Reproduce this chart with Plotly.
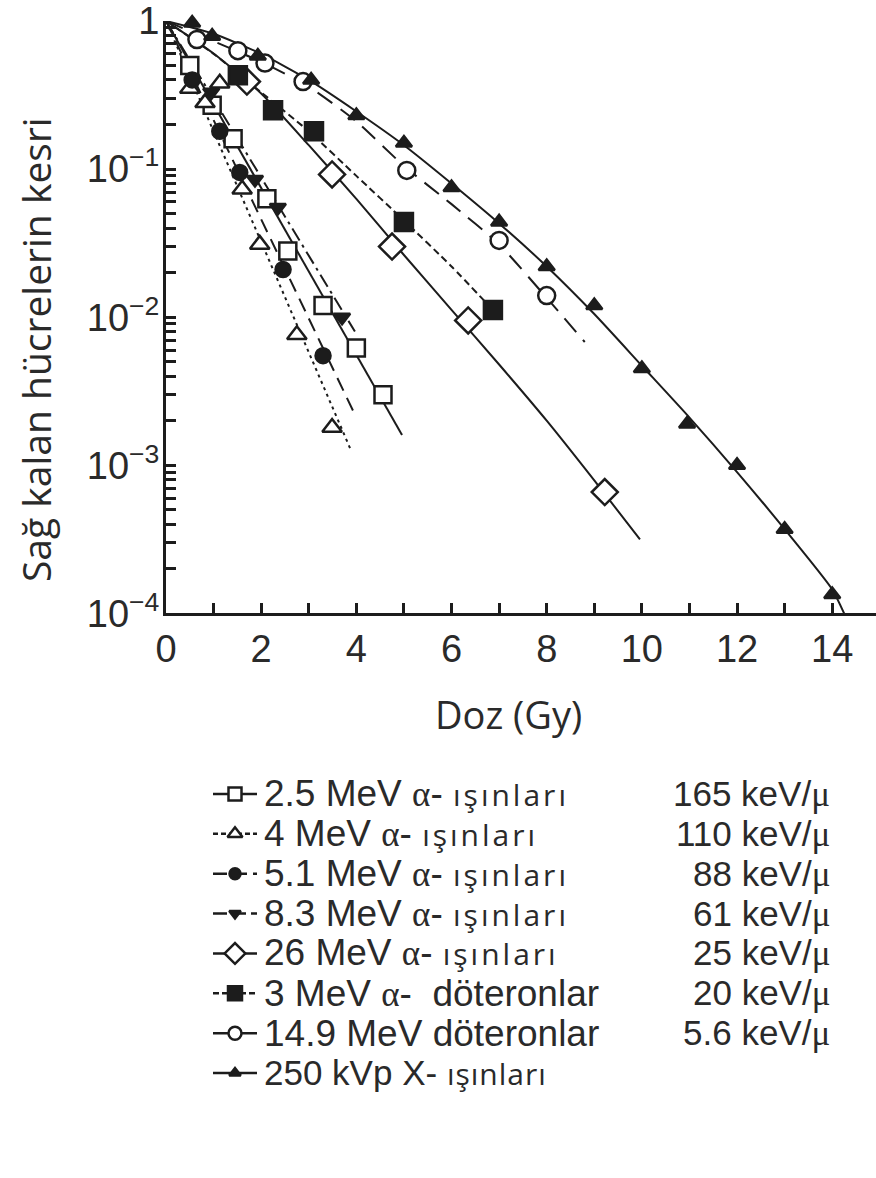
import plotly.graph_objects as go

# ---------------- data ----------------
# measured points
sq_open_x = [0.5, 0.97, 1.41, 2.12, 2.56, 3.3, 4.0, 4.56]            # 2.5 MeV alpha
sq_open_y = [0.5, 0.27, 0.16, 0.063, 0.028, 0.012, 0.0062, 0.003]
tri_open_x = [0.5, 0.82, 1.13, 1.6, 1.97, 2.75, 3.49]                # 4 MeV alpha
tri_open_y = [0.35, 0.28, 0.38, 0.073, 0.031, 0.0076, 0.0018]
circ_fill_x = [0.55, 1.13, 1.55, 2.46, 3.3]                          # 5.1 MeV alpha
circ_fill_y = [0.40, 0.18, 0.095, 0.021, 0.0055]
tri_down_x = [0.95, 1.87, 2.35, 3.7]                                 # 8.3 MeV alpha
tri_down_y = [0.33, 0.085, 0.055, 0.010]
dia_x = [1.7, 3.49, 4.75, 6.35, 9.22]                                # 26 MeV alpha
dia_y = [0.39, 0.092, 0.030, 0.0095, 0.00066]
sq_fill_x = [1.51, 2.25, 3.11, 5.0, 6.87]                            # 3 MeV deuterons
sq_fill_y = [0.43, 0.25, 0.18, 0.044, 0.0112]
circ_open_x = [0.65, 1.51, 2.08, 2.88, 5.06, 7.0, 8.0]               # 14.9 MeV deuterons
circ_open_y = [0.75, 0.63, 0.52, 0.39, 0.098, 0.033, 0.014]
xray_x = [0.55, 0.97, 1.93, 3.05, 4.0, 5.0, 6.0, 7.0, 8.0, 9.0, 10.0, 10.95, 12.0, 13.0, 14.0]
xray_y = [0.97, 0.79, 0.58, 0.40, 0.23, 0.15, 0.075, 0.044, 0.022, 0.012, 0.0045, 0.0019, 0.001, 0.00037, 0.000134]

# fitted curves
fit_a25_x = [0, 4.96]
fit_a25_y = [1, 0.0016]
fit_a4_x = [0, 3.87]
fit_a4_y = [1, 0.0013]
fit_a51_x = [0, 3.97]
fit_a51_y = [1, 0.0022]
fit_a83_x = [0, 3.97]
fit_a83_y = [1, 0.008]
fit_a26_x = [0, 1, 2, 3, 4, 5, 6, 7, 8, 9, 9.96]
fit_a26_y = [1, 0.603, 0.324, 0.145, 0.063, 0.0263, 0.0112, 0.00479, 0.002, 0.00079, 0.000316]
fit_d3_x = [0, 1, 2, 3, 4, 5, 6, 6.87]
fit_d3_y = [1, 0.6, 0.33, 0.18, 0.09, 0.045, 0.022, 0.0112]
fit_d149_x = [0, 1, 2, 3, 4, 5, 6, 7, 8, 8.8]
fit_d149_y = [1, 0.73, 0.53, 0.36, 0.21, 0.105, 0.058, 0.031, 0.0135, 0.0068]
fit_x_x = [0, 1, 2, 3, 4, 5, 6, 7, 8, 9, 10, 11, 12, 13, 14, 14.25]
fit_x_y = [1, 0.82, 0.6, 0.4, 0.245, 0.145, 0.08, 0.043, 0.022, 0.0105, 0.0047, 0.0021, 0.0009, 0.00037, 0.000145, 0.0001]

# legend texts
leg_energy = ["2.5 MeV", "4 MeV", "5.1 MeV", "8.3 MeV", "26 MeV", "3 MeV", "14.9 MeV", "250 kVp X-"]
leg_kind = ["α- ışınları", "α- ışınları", "α- ışınları", "α- ışınları", "α- ışınları",
            "α-\u00a0 döteronlar", "döteronlar", "ışınları"]
leg_let = ["165", "110", "88", "61", "25", "20", "5.6", ""]

y_ticks = [1e-4, 1e-3, 1e-2, 1e-1, 1]
y_ticktext = ["10<sup>−4</sup>", "10<sup>−3</sup>", "10<sup>−2</sup>", "10<sup>−1</sup>", "1"]
x_ticks = [0, 2, 4, 6, 8, 10, 12, 14]

# ---------------- styles / layout ----------------
INK = "#1c1c1c"
TXT = "#2a2a2a"
TICKFONT = "Liberation Sans"
PX0 = 166  # left edge of plot in page pixels (helper legend axis counts px from here)
row_font = [37, 37, 37, 37, 37, 37, 37, 35]
row_spacing = [3, 3, 3, 3, 3, 0, 0, 1]

series = [
    # (pts x, pts y, fit x, fit y, symbol, filled, size, dash)
    (sq_open_x, sq_open_y, fit_a25_x, fit_a25_y, "square", False, 17, "solid"),
    (tri_open_x, tri_open_y, fit_a4_x, fit_a4_y, "triangle-up", False, 17, "3px,4px"),
    (circ_fill_x, circ_fill_y, fit_a51_x, fit_a51_y, "circle", True, 15, "14px,8px"),
    (tri_down_x, tri_down_y, fit_a83_x, fit_a83_y, "triangle-down", True, 14, "14px,5px,3px,5px"),
    (dia_x, dia_y, fit_a26_x, fit_a26_y, "diamond", False, 20, "solid"),
    (sq_fill_x, sq_fill_y, fit_d3_x, fit_d3_y, "square", True, 18, "7px,4px"),
    (circ_open_x, circ_open_y, fit_d149_x, fit_d149_y, "circle", False, 17, "18px,10px"),
    (xray_x, xray_y, fit_x_x, fit_x_y, "triangle-up", True, 14, "solid"),
]
legend_dash = ["solid", "5px,3px", "14px,6px", "14px,5px", "solid", "6px,3px", "solid", "solid"]

fig = go.Figure()

for px, py, fx, fy, sym, filled, size, dash in series:
    fig.add_trace(go.Scatter(
        x=fx, y=fy, mode="lines", line=dict(color=INK, width=2, dash=dash, shape="spline", smoothing=0.6),
        showlegend=False, hoverinfo="skip", xaxis="x", yaxis="y"))
for px, py, fx, fy, sym, filled, size, dash in series:
    fig.add_trace(go.Scatter(
        x=px, y=py, mode="markers", cliponaxis=False,
        marker=dict(symbol=sym, size=size, color=INK if filled else "white",
                    line=dict(color=INK, width=2.5)),
        showlegend=False, xaxis="x", yaxis="y"))

# legend samples on a helper axis (rows 1..8; x in px from the plot's left edge)
for i, (px, py, fx, fy, sym, filled, size, dash) in enumerate(series):
    row = i + 1
    fig.add_trace(go.Scatter(
        x=[47, 91], y=[row, row], mode="lines", line=dict(color=INK, width=2.5, dash=legend_dash[i]),
        showlegend=False, hoverinfo="skip", xaxis="x2", yaxis="y2"))
    fig.add_trace(go.Scatter(
        x=[69], y=[row], mode="markers",
        marker=dict(symbol=sym, size=size - 4, color=INK if filled else "white",
                    line=dict(color=INK, width=2.5)),
        showlegend=False, hoverinfo="skip", xaxis="x2", yaxis="y2"))

annotations = []
for i in range(8):
    row = i + 1
    kind = leg_kind[i].replace("α", "<span style='font-family:Liberation Serif;font-size:35px'>α</span>")
    kind = kind.replace(
        "ışınları",
        f"<span style='font-family:Open Sans;font-size:30px;letter-spacing:{row_spacing[i]}px'>ışınları</span>")
    annotations.append(dict(
        x=262 - PX0, y=row, xref="x2", yref="y2", xanchor="left", yanchor="middle",
        text=f"{leg_energy[i]} {kind}", showarrow=False,
        font=dict(family="Liberation Sans", size=row_font[i], color=TXT)))
    if leg_let[i]:
        annotations.append(dict(
            x=832 - PX0, y=row, xref="x2", yref="y2", xanchor="right", yanchor="middle",
            text=f"{leg_let[i]} keV/<span style='font-family:Liberation Serif'>μ</span>",
            showarrow=False, font=dict(family="Liberation Sans", size=35, color=TXT)))

# axis titles (positions converted from pixels to paper fractions)
annotations.append(dict(x=(35 - PX0) / 710, y=(1118 - 348) / 1100, xref="paper", yref="paper",
                        xanchor="center", yanchor="middle",
                        text="Sağ kalan hücrelerin kesri", textangle=-90, showarrow=False,
                        font=dict(family="Open Sans", size=39, color=TXT)))
annotations.append(dict(x=(508 - PX0) / 710, y=(1118 - 713) / 1100, xref="paper", yref="paper",
                        xanchor="center", yanchor="middle",
                        text="Doz (Gy)", showarrow=False,
                        font=dict(family="Open Sans", size=38, color=TXT)))

fig.update_layout(
    width=876, height=1178,
    margin=dict(l=166, r=0, t=18, b=60),
    paper_bgcolor="white", plot_bgcolor="white",
    showlegend=False,
    annotations=annotations,
    xaxis=dict(domain=[0, 1], range=[0, 14.92], tickvals=x_ticks,
               ticks="inside", ticklen=10, tickwidth=2.5, tickcolor=INK,
               minor=dict(dtick=1, ticks="inside", ticklen=10, tickwidth=2.5, tickcolor=INK, showgrid=False),
               showline=True, linecolor=INK, linewidth=3, showgrid=False, zeroline=False,
               ticklabelstandoff=0, ticklabeloverflow="allow",
               tickfont=dict(family=TICKFONT, size=38, color=TXT), anchor="y"),
    yaxis=dict(domain=[0.46, 1], type="log", range=[-4, 0],
               tickvals=y_ticks, ticktext=y_ticktext,
               ticks="inside", ticklen=10, tickwidth=2.5, tickcolor=INK,
               minor=dict(tickvals=[m * 10 ** e for e in range(-4, 0) for m in range(2, 10)],
                          ticks="inside", ticklen=10, tickwidth=2.5, tickcolor=INK, showgrid=False),
               showline=True, linecolor=INK, linewidth=3, showgrid=False, zeroline=False,
               ticklabelstandoff=-4, ticklabeloverflow="allow",
               tickfont=dict(family=TICKFONT, size=38, color=TXT), anchor="x"),
    xaxis2=dict(domain=[0, 1], range=[0, 710], visible=False, anchor="y2"),
    yaxis2=dict(domain=[0.02273, 0.31364], range=[8.5, 0.5], visible=False, anchor="x2"),
)

fig.write_html("out.html")
